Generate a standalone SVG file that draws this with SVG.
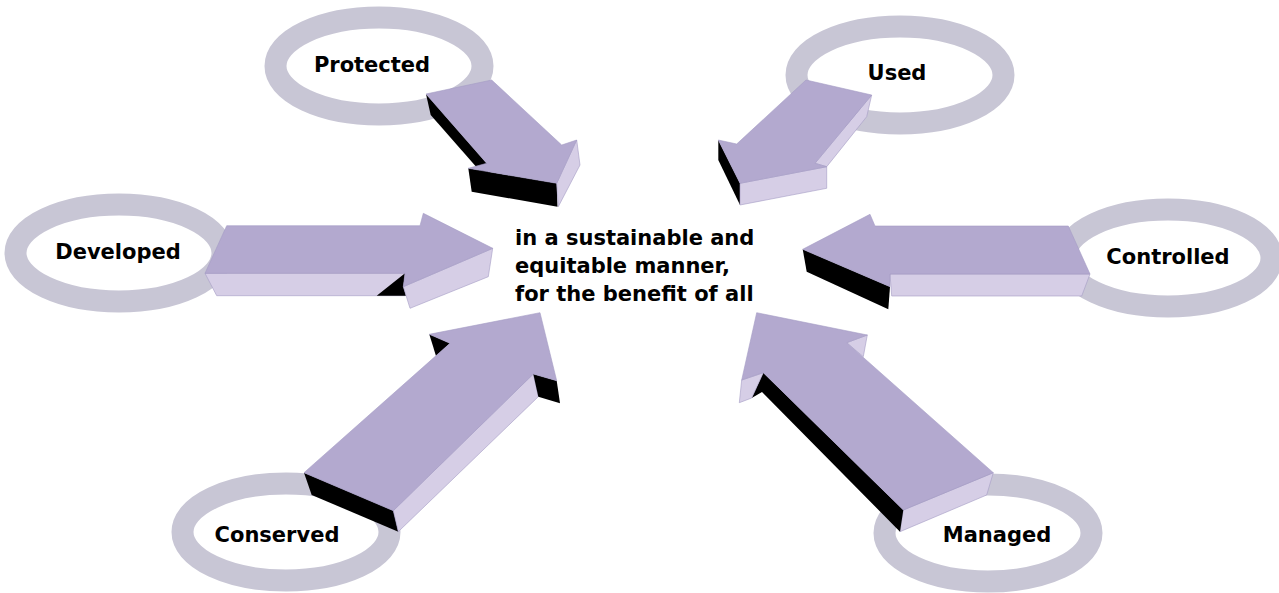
<svg xmlns="http://www.w3.org/2000/svg" width="1279" height="593" viewBox="0 0 1279 593">
<style>
.ring{fill:none;stroke:#c8c6d5;stroke-width:22}
.lbl{font-family:"DejaVu Sans",sans-serif;font-weight:bold;font-size:21px;fill:#000;text-anchor:middle}
.main{font-family:"DejaVu Sans",sans-serif;font-weight:bold;font-size:21px;fill:#000}
.top{fill:#b3a9cf;stroke:#a59cc4;stroke-width:0.6}
.lt{fill:#d6cee6;stroke:#a59cc4;stroke-width:0.6}
.dk{fill:#000}
</style>
<rect width="1279" height="593" fill="#fff"/>
<g id="node-protected"><ellipse class="ring" cx="379" cy="66" rx="103.5" ry="48.5"/><text class="lbl" x="372" y="72">Protected</text></g>
<g id="node-used"><ellipse class="ring" cx="900" cy="75" rx="103.5" ry="48.5"/><text class="lbl" x="897" y="80">Used</text></g>
<g id="node-developed"><ellipse class="ring" cx="119" cy="253" rx="103.5" ry="48.5"/><text class="lbl" x="118" y="259">Developed</text></g>
<g id="node-controlled"><ellipse class="ring" cx="1168" cy="258" rx="103.5" ry="48.5"/><text class="lbl" x="1168" y="264">Controlled</text></g>
<g id="node-conserved"><ellipse class="ring" cx="286" cy="532" rx="103.5" ry="48.5"/><text class="lbl" x="277" y="542">Conserved</text></g>
<g id="node-managed"><ellipse class="ring" cx="988" cy="533" rx="103.5" ry="48.5"/><text class="lbl" x="997" y="542">Managed</text></g>
<g id="node-center"><text class="main" x="515" y="245">in a sustainable and</text><text class="main" x="515" y="273">equitable manner,</text><text class="main" x="515" y="301">for the benefit of all</text></g>
<g id="connectors">
<g id="arrow-protected">
<polygon class="dk" points="426,94 486.7,163.3 489.7,182.3 430.7,115"/>
<polygon class="dk" points="468.3,168.3 556.7,183.3 557.5,206.7 471.7,191.7"/>
<polygon class="lt" points="576.7,140 580,165 558.3,206.7 556.7,183.3"/>
<polygon class="top" points="426,94 491.7,80 561.7,145 576.7,140 556.7,183.3 468.3,168.3 486.7,163.3"/>
</g>
<g id="arrow-used">
<polygon class="lt" points="871.7,95 866.7,116.7 826.7,166.7 815,163.3"/>
<polygon class="dk" points="718.3,140 740,183.3 740,205 718.3,160"/>
<polygon class="lt" points="826.7,166.7 826.7,188.3 740,205 740,183.3"/>
<polygon class="top" points="806,80 871.7,95 815,163.3 826.7,166.7 740,183.3 718.3,140 736.7,144"/>
</g>
<g id="arrow-developed">
<polygon class="lt" points="205,273.3 405,273.3 405,295.7 216.7,295.7"/>
<polygon class="dk" points="376.7,295.7 405,273.3 403.3,286.7 406,295.7"/>
<polygon class="lt" points="403.3,286.7 492.7,248.3 488.3,276.7 410,308.3"/>
<polygon class="top" points="226.7,225.7 420,225.7 423.3,213.3 492.7,248.3 403.3,286.7 405,273.3 205,273.3"/>
</g>
<g id="arrow-controlled">
<polygon class="lt" points="890,274 1090,274 1081.7,296 891.7,296"/>
<polygon class="dk" points="802.7,249.3 890,286.7 888.3,309.3 806.7,271.7"/>
<polygon class="top" points="1068.3,226 875,226 870,214.3 802.7,249.3 890,286.7 890,274 1090,274"/>
</g>
<g id="arrow-conserved">
<polygon class="dk" points="304,472.7 393.3,510.7 398.3,531.7 311.7,495"/>
<polygon class="lt" points="393.3,510.7 533.3,374 538.3,396.7 398.3,531.7"/>
<polygon class="dk" points="533.3,374 556.7,380.7 560,403.3 538.3,396.7"/>
<polygon class="dk" points="429.3,334.3 450,343.3 436,356"/>
<polygon class="top" points="304,472.7 393.3,510.7 533.3,374 556.7,380.7 540,312.7 429.3,334.3 450,343.3"/>
</g>
<g id="arrow-managed">
<polygon class="lt" points="903.3,510 993.3,472.7 986.7,495 900,531.7"/>
<polygon class="dk" points="763.3,372.7 903.3,510 900,531.7 762,392 751.7,398"/>
<polygon class="lt" points="741.7,380 763.3,372.7 751.7,398 739.3,402.7"/>
<polygon class="lt" points="846.7,342.7 867.3,335 863.3,356.7"/>
<polygon class="top" points="993.3,472.7 903.3,510 763.3,372.7 741.7,380 756.7,312.7 867.3,335 846.7,342.7"/>
</g>
</g>
</svg>
